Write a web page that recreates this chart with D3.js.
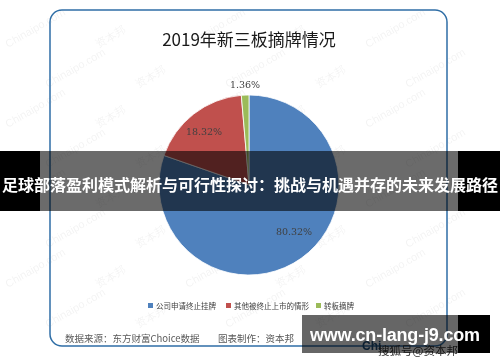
<!DOCTYPE html>
<html>
<head>
<meta charset="utf-8">
<script src="https://cdn.jsdelivr.net/npm/d3@7"></script>
<style>
  body { margin: 0; background: #fff; }
  svg { display: block; }
</style>
</head>
<body>
<div id="chart"></div>
<script>
// Data
const categories = ["公司申请终止挂牌", "其他被终止上市的情形", "转板摘牌"];
const values = [80.32, 18.32, 1.36];
const colors = ["#4f81bd", "#c0504d", "#9bbb59"];
const title = "2019年新三板摘牌情况";
const bannerText = "足球部落盈利模式解析与可行性探讨：挑战与机遇并存的未来发展路径";
const sourceText = "数据来源：东方财富Choice数据";
const makerText = "图表制作：资本邦";
const siteText = "www.cn-lang-j9.com";

const width = 500, height = 362;

const svg = d3.select("#chart")
  .append("svg")
  .attr("width", width)
  .attr("height", height);

svg.append("rect")
  .attr("width", width)
  .attr("height", height)
  .attr("fill", "#fff");

// faint watermark, kept inside the picture
const wm = svg.append("g")
  .attr("fill", "#000")
  .attr("opacity", 0.05)
  .attr("font-family", "Liberation Sans, sans-serif")
  .attr("font-size", 11);
for (let row = 0; row < 8; row++) {
  for (let col = 0; col < 5; col++) {
    const x = col * 90 + (row % 2) * 40 + 8;
    const y = row * 40 + 48;
    if (x > 420 || y > 355) continue;
    wm.append("text")
      .attr("transform", `translate(${x},${y}) rotate(-30)`)
      .text(col % 2 ? "资本邦" : "Chinaipo.com");
  }
}

// card frame
svg.append("rect")
  .attr("x", 50)
  .attr("y", 10)
  .attr("width", 397)
  .attr("height", 336)
  .attr("rx", 12)
  .attr("fill", "none")
  .attr("stroke", "#2f6ea6")
  .attr("stroke-width", 1.5);

svg.append("text")
  .attr("x", 249)
  .attr("y", 46)
  .attr("text-anchor", "middle")
  .attr("font-family", "Noto Sans CJK SC, sans-serif")
  .attr("font-size", 17)
  .attr("fill", "#1a1a1a")
  .text(title);

// pie
const cx = 249, cy = 185, radius = 90;
const pie = d3.pie().sort(null).value(d => d);
const arc = d3.arc().innerRadius(0).outerRadius(radius);
const arcs = pie(values);

const g = svg.append("g")
  .attr("transform", `translate(${cx},${cy})`);

g.selectAll("path")
  .data(arcs)
  .join("path")
  .attr("d", arc)
  .attr("fill", (d, i) => colors[i])
  .attr("stroke", "#fff")
  .attr("stroke-width", 0.8);

// data labels
const labelPos = [
  [cx + 45, 235],
  [cx - 45, 135],
  [cx - 4, 88]
];
svg.selectAll(".lbl")
  .data(values)
  .join("text")
  .attr("class", "lbl")
  .attr("x", (d, i) => labelPos[i][0])
  .attr("y", (d, i) => labelPos[i][1])
  .attr("text-anchor", "middle")
  .attr("font-family", "DejaVu Serif, serif")
  .attr("font-size", 9.5)
  .attr("fill", "#404040")
  .text(d => d.toFixed(2) + "%");

// legend
const legendX = [148, 226, 316];
const legend = svg.append("g");
categories.forEach((c, i) => {
  legend.append("rect")
    .attr("x", legendX[i])
    .attr("y", 303)
    .attr("width", 5)
    .attr("height", 5)
    .attr("fill", colors[i]);
  legend.append("text")
    .attr("x", legendX[i] + 8)
    .attr("y", 309)
    .attr("font-family", "Noto Sans CJK SC, sans-serif")
    .attr("font-size", 7.5)
    .attr("fill", "#404040")
    .text(c);
});

// footer
svg.append("text")
  .attr("x", 65)
  .attr("y", 342)
  .attr("font-family", "Noto Sans CJK SC, sans-serif")
  .attr("font-size", 9.5)
  .attr("fill", "#595959")
  .text(sourceText);
svg.append("text")
  .attr("x", 218)
  .attr("y", 342)
  .attr("font-family", "Noto Sans CJK SC, sans-serif")
  .attr("font-size", 9.5)
  .attr("fill", "#595959")
  .text(makerText);

svg.append("text")
  .attr("x", 362)
  .attr("y", 350)
  .attr("font-family", "Liberation Sans, sans-serif")
  .attr("font-weight", "bold")
  .attr("font-size", 12)
  .attr("fill", "#1f4e79")
  .text("Chi");
svg.append("text")
  .attr("x", 378)
  .attr("y", 355)
  .attr("font-family", "Noto Sans CJK SC, sans-serif")
  .attr("font-size", 11.5)
  .attr("fill", "#333")
  .text("搜狐号@资本邦");

// overlay banner across the middle
svg.append("rect").attr("x", 0).attr("y", 151).attr("width", 40).attr("height", 60).attr("fill", "#000");
svg.append("rect").attr("x", 458).attr("y", 151).attr("width", 42).attr("height", 60).attr("fill", "#000");
svg.append("rect").attr("x", 40).attr("y", 151).attr("width", 418).attr("height", 60).attr("fill", "rgba(0,0,0,0.58)");
svg.append("text")
  .attr("x", 250)
  .attr("y", 191)
  .attr("text-anchor", "middle")
  .attr("font-family", "Noto Sans CJK SC, sans-serif")
  .attr("font-weight", "bold")
  .attr("font-size", 16)
  .attr("textLength", 496)
  .attr("fill", "#fff")
  .text(bannerText);

// site banner at the bottom
svg.append("rect").attr("x", 302).attr("y", 315).attr("width", 156).attr("height", 38).attr("fill", "rgba(0,0,0,0.6)");
svg.append("rect").attr("x", 458).attr("y", 315).attr("width", 32).attr("height", 38).attr("fill", "#000");
svg.append("text")
  .attr("x", 395)
  .attr("y", 341)
  .attr("text-anchor", "middle")
  .attr("font-family", "Liberation Sans, sans-serif")
  .attr("font-weight", "bold")
  .attr("font-size", 18)
  .attr("textLength", 170)
  .attr("fill", "#fff")
  .text(siteText);
</script>
</body>
</html>
